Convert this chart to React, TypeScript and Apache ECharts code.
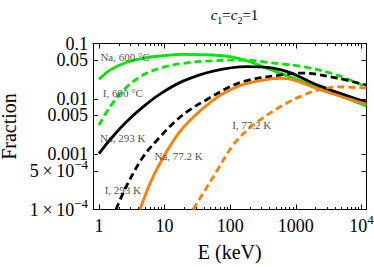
import React, { useEffect, useRef } from "react";
import * as echarts from "echarts";

// ---- data ----
const naHot = [
  [1, 0.0225], [1.47, 0.0331], [2.58, 0.0453], [4.69, 0.054], [8.5, 0.0594], [19.1, 0.0637],
  [55, 0.062], [99, 0.0577], [178, 0.0488], [316, 0.038], [575, 0.0292], [2340, 0.0156], [11900, 0.0074],
];
const iHot = [
  [1, 0.00334], [1.47, 0.00716], [2.58, 0.0159], [4.69, 0.0269], [8.5, 0.0356], [19.1, 0.0438],
  [55, 0.0488], [175, 0.0503], [404, 0.0449], [1280, 0.038], [4250, 0.0269], [11900, 0.0163],
];
const naRoom = [
  [1, 0.00102], [1.47, 0.00182], [2.58, 0.00378], [4.69, 0.00716], [8.5, 0.0122], [19.1, 0.0209],
  [55, 0.0318], [180, 0.0383], [448, 0.036], [816, 0.0298], [2340, 0.017], [11900, 0.0087],
];
const iRoom = [
  [1.82, 0.0001], [2.58, 0.000255], [4.69, 0.00089], [8.5, 0.00205], [14.9, 0.00403], [24.4, 0.00637],
  [44.3, 0.00975], [99, 0.0165], [180, 0.0214], [575, 0.0269], [1280, 0.0292], [4250, 0.0237], [11900, 0.0177],
];
const naCold = [
  [4.2, 0.0001], [6, 0.000297], [8.5, 0.000684], [14.9, 0.00205], [24.4, 0.00411], [55, 0.00947],
  [99, 0.0144], [180, 0.019], [575, 0.0234], [816, 0.0227], [2340, 0.0146], [11900, 0.008],
];
const iCold = [
  [27.1, 0.0001], [34.6, 0.000159], [62.9, 0.0005], [110, 0.00145], [200, 0.00301], [364, 0.00507],
  [638, 0.00769], [1160, 0.01096], [2105, 0.01426], [4250, 0.01644], [11900, 0.01563],
];

const curveNames = ["Na, 600 °C", "I, 600 °C", "Na, 293 K", "I, 293 K", "Na, 77.2 K", "I, 77.2 K"];
const curveData = [naHot, iHot, naRoom, iRoom, naCold, iCold];
const curveColors = ["#00e600", "#00e600", "#000000", "#000000", "#ff8000", "#ff8000"];
const curveDashed = [false, true, false, true, false, true];

// curve labels placed in data coordinates (left edge, vertical middle of the text)
const labelTexts = ["Na, 600 °C", "I, 600 °C", "Na, 293 K", "I, 293 K", "Na, 77.2 K", "I, 77.2 K"];
const labelX = [1.05, 1.14, 1.036, 1.22, 7.0, 107];
const labelY = [0.0562, 0.01284, 0.00192, 0.000222, 0.000916, 0.00334];

const xMajor = [1, 10, 100, 1000, 10000];
const xMajorLabels = ["1", "10", "100", "1000", "10{s|4}"];
const xMinor = [
  2, 3, 4, 5, 6, 7, 8, 9, 20, 30, 40, 50, 60, 70, 80, 90,
  200, 300, 400, 500, 600, 700, 800, 900, 2000, 3000, 4000, 5000, 6000, 7000, 8000, 9000,
];
const yTicks = [0.0001, 0.0005, 0.001, 0.005, 0.01, 0.05, 0.1];
const yTickLabels = ["1\u2009×\u200910{s|−4}", "5\u2009×\u200910{s|−4}", "0.001", "0.005", "0.01", "0.05", "0.1"];

const X_MIN = 0.81;
const X_MAX = 11960;
const Y_MIN = 0.0001;
const Y_MAX = 0.1 * (1 + 1e-9);

const FONT = "Liberation Serif";

function pickLabel(values: number[], labels: string[], v: number) {
  for (let i = 0; i < values.length; i++) {
    if (Math.abs(Math.log10(v) - Math.log10(values[i])) < 1e-6) {
      const t = labels[i];
      const k = t.indexOf("{s|");
      if (k >= 0) return "{n|" + t.slice(0, k) + "}" + t.slice(k);
      return "{n|" + t + "}";
    }
  }
  return "";
}

const labelRich = {
  n: { fontSize: 18, fontFamily: FONT, color: "#000", lineHeight: 26 },
  s: { fontSize: 13, fontFamily: FONT, color: "#000", lineHeight: 4, verticalAlign: "top" },
};

export default function App() {
  const ref = useRef<HTMLDivElement>(null);
  useEffect(() => {
    if (!ref.current) return;
    const chart = echarts.init(ref.current, undefined, { renderer: "svg" });
    const frameLine = { show: true, lineStyle: { color: "#000", width: 1 } };
    const tickLine = { color: "#000", width: 1 };
    const baseLog = {
      type: "log", logBase: 10,
      splitLine: { show: false }, minorTick: { show: false }, minorSplitLine: { show: false },
    };
    // split the y labels over two overlaid left axes so that neighbours never collide
    const yDecades = yTicks.filter((_, i) => i % 2 === 0);
    const yHalves = yTicks.filter((_, i) => i % 2 === 1);
    const yLabelAxis = (vals: number[]) => ({
      show: true, customValues: vals, margin: 5, showMinLabel: true, showMaxLabel: true,
      hideOverlap: false,
      formatter: (v: number) => pickLabel(yTicks, yTickLabels, v),
      rich: labelRich,
    });
    const option: any = {
      animation: false,
      title: {
        text: "{i|c}{b|1}{n|=}{i|c}{b|2}{n|=1}",
        left: 229.5,
        top: 0,
        textAlign: "center",
        textStyle: {
          fontWeight: "normal",
          rich: {
            i: { fontSize: 15, fontFamily: FONT, fontStyle: "italic", fontWeight: "normal", color: "#000", lineHeight: 20 },
            n: { fontSize: 15, fontFamily: FONT, fontWeight: "normal", color: "#000", lineHeight: 20 },
            b: { fontSize: 10, fontFamily: FONT, fontWeight: "normal", color: "#000", lineHeight: 10, verticalAlign: "bottom" },
          },
        },
      },
      grid: { left: 93, right: 7.5, top: 43.5, bottom: 57.5, containLabel: false, outerBoundsMode: "none" },
      xAxis: [
        {
          ...baseLog, min: X_MIN, max: X_MAX, position: "bottom",
          axisLine: frameLine,
          axisTick: { show: true, inside: true, length: 5, customValues: xMajor, lineStyle: tickLine },
          axisLabel: {
            show: true, customValues: xMajor, margin: 3, showMinLabel: true, showMaxLabel: true,
            hideOverlap: false,
            formatter: (v: number) => pickLabel(xMajor, xMajorLabels, v),
            rich: labelRich,
          },
          name: "E (keV)", nameLocation: "middle", nameGap: 32,
          nameTextStyle: { fontSize: 20, fontFamily: FONT, color: "#000" },
        },
        {
          ...baseLog, min: X_MIN, max: X_MAX, position: "bottom",
          axisLine: { show: false },
          axisTick: { show: true, inside: true, length: 2.5, customValues: xMinor, lineStyle: tickLine },
          axisLabel: { show: false },
        },
        {
          ...baseLog, min: X_MIN, max: X_MAX, position: "top",
          axisLine: frameLine,
          axisTick: { show: true, inside: true, length: 5, customValues: xMajor, lineStyle: tickLine },
          axisLabel: { show: false },
        },
        {
          ...baseLog, min: X_MIN, max: X_MAX, position: "top",
          axisLine: { show: false },
          axisTick: { show: true, inside: true, length: 2.5, customValues: xMinor, lineStyle: tickLine },
          axisLabel: { show: false },
        },
      ],
      yAxis: [
        {
          ...baseLog, min: Y_MIN, max: Y_MAX, position: "left",
          axisLine: frameLine,
          axisTick: { show: true, inside: true, length: 5, customValues: yTicks, lineStyle: tickLine },
          axisLabel: yLabelAxis(yDecades),
          name: "Fraction", nameLocation: "middle", nameGap: 70,
          nameTextStyle: { fontSize: 20, fontFamily: FONT, color: "#000", lineHeight: 16 },
        },
        {
          ...baseLog, min: Y_MIN, max: Y_MAX, position: "left", offset: 0,
          axisLine: { show: false },
          axisTick: { show: false },
          axisLabel: yLabelAxis(yHalves),
        },
        {
          ...baseLog, min: Y_MIN, max: Y_MAX, position: "right",
          axisLine: frameLine,
          axisTick: { show: true, inside: true, length: 5, customValues: yTicks, lineStyle: tickLine },
          axisLabel: { show: false },
        },
      ],
      series: [
        ...curveData.map((d, i) => ({
          type: "line",
          name: curveNames[i],
          data: d,
          xAxisIndex: 0,
          yAxisIndex: 0,
          showSymbol: false,
          symbol: "none",
          smooth: 0.35,
          clip: true,
          lineStyle: { color: curveColors[i], width: 2.8, type: curveDashed[i] ? [7, 4] : "solid" },
          z: 3,
        })),
        {
          type: "scatter",
          xAxisIndex: 0,
          yAxisIndex: 0,
          symbolSize: 0,
          silent: true,
          data: labelTexts.map((t, i) => ({ value: [labelX[i], labelY[i]], name: t })),
          label: {
            show: true, position: "right", distance: 0,
            formatter: (p: any) => p.name,
            fontSize: 11, fontFamily: FONT, color: "#222",
          },
          z: 5,
        },
      ],
    };
    chart.setOption(option);
    return () => chart.dispose();
  }, []);
  return <div ref={ref} style={{ position: "absolute", left: 0, top: 0, width: 374, height: 267 }} />;
}
